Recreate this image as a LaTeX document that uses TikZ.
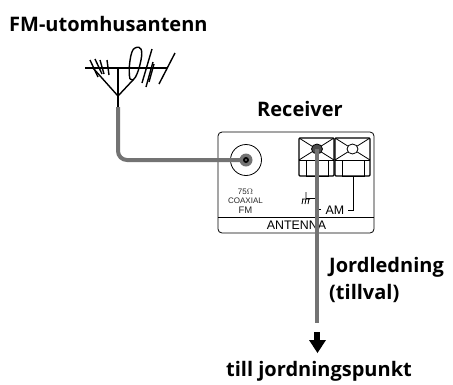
\documentclass[tikz,border=0pt]{standalone}
\usepackage{fontspec}
\usetikzlibrary{shapes.geometric}
\setmainfont{Open Sans}
\newfontfamily\lab{Liberation Sans}
\tikzset{
 title/.style={font=\fontsize{20}{26.5}\selectfont\bfseries,anchor=west,inner sep=0,align=left},
 small/.style={font=\lab\fontsize{8}{9}\selectfont,inner sep=0,align=center,text=black!85},
 mid/.style={font=\lab\fontsize{12.4}{14}\selectfont,inner sep=0},
 thin line/.style={draw=black,line width=0.8pt},
 wire/.style={draw=black!55,line width=4pt},
 ant/.style={draw=black,line width=1.4pt}
}
\begin{document}
\begin{tikzpicture}[x=1pt,y=-1pt]
\useasboundingbox (0,0) rectangle (453,384);
\node[title] (t1) at (9,24) {FM-utomhusantenn};
\node[title] (t2) at (257,109) {Receiver};
\node[title] (t3) at (329,280) {Jordledning\\(tillval)};
\node[title] (t4) at (226,371) {till jordningspunkt};
% antenna
\draw[ant] (85,68) -- (167,68);
\draw[ant] (118,68) -- (118,107);
\draw[ant] (93,68) -- (118,96) -- (133,80);
\draw[ant] (90,60) -- (98,77);
\draw[ant] (95,59) -- (102,74);
\draw[ant] (100,60) -- (104,74);
\draw[ant] (107,60) -- (109,75);
\draw[ant] (130,79) .. controls (128,72) and (130,49) .. (135,48) .. controls (141,45) and (143,50) .. (141,60) .. controls (139,70) and (136,78) .. (133,80) -- (130,79);
\draw[ant] (142,83) -- (152,49);
\draw[ant] (146,87) -- (153,62);
\draw[ant] (149,82) -- (154,64);
\draw[ant] (159,84) -- (175,53);
% box
\draw[thin line,rounded corners=4pt] (218,132) rectangle (374,233);
\draw[thin line] (218,217) -- (374,217);
\node[mid] (ant) at (296.5,225.5) {ANTENNA};
% coax
\node[circle,draw,line width=0.8pt,minimum size=31pt,inner sep=0] (coax) at (246,160) {};
\coordinate (fmend) at (246,160);
\coordinate (a1) at (118,107);
\draw[wire,rounded corners=9pt] (a1) -- (118,160) -- (fmend);
\fill[black!55] (fmend) circle (6.5);
\fill[black] (fmend) circle (3);
\fill[black!55] (fmend) circle (1.2);
\node[small] (lbl) at (245.5,196.5) {75$\Omega$\\COAXIAL};
\node[small,font=\lab\fontsize{9.5}{10}\selectfont] (lblfm) at (245.5,210) {FM};
% terminals
\draw[line width=1.3pt,rounded corners=1pt] (299,138) rectangle (334,176);
\draw[line width=1.3pt,rounded corners=1pt] (335,138) rectangle (370,176);
\draw[thin line] (299,160) -- (334,160) (335,160) -- (370,160);
\draw[thin line] (299,138) -- (334,160) (334,138) -- (299,160);
\draw[thin line] (335,138) -- (370,160) (370,138) -- (335,160);
\draw[thin line] (306,160) rectangle (328,176);
\draw[thin line] (342,160) rectangle (364,176);
\node[ellipse,minimum width=11pt,minimum height=10pt,inner sep=0,fill=white,draw,line width=0.8pt] (c2) at (352.5,149) {};
% ground
\draw[thin line] (317,198) -- (306,198);
\draw[thin line] (306,192) -- (306,198) (302,199) -- (310,199) (303,199) -- (302,204) (306,199) -- (305,204) (309,199) -- (308,204);
\draw[thin line] (317,209) -- (321,209);
\draw[thin line] (353,176) -- (353,210) -- (348,210);
\node[mid] (am) at (335,210) {AM};
\node[ellipse,minimum width=11pt,minimum height=10pt,inner sep=0,fill=black!70,draw,line width=0.8pt] (c1) at (317,149) {};
\coordinate (g1) at (317,149);
\coordinate (g2) at (317,323);
\draw[wire] (g1) -- (g2);
\fill (314,332) rectangle (320,341);
\fill (309,340) -- (326,340) -- (317.5,353) -- cycle;
\end{tikzpicture}
\end{document}
